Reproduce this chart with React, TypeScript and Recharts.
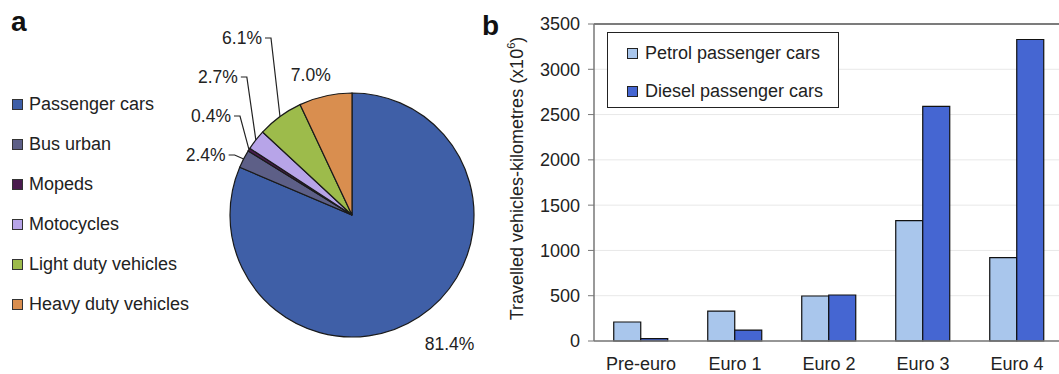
import React from "react";
import { PieChart, Pie, Cell, BarChart, Bar, XAxis, YAxis, CartesianGrid, Legend, ReferenceLine, Label } from "recharts";

// panel a: share of travelled vehicle-km by vehicle category
const pieNames = ["Passenger cars", "Bus urban", "Mopeds", "Motocycles", "Light duty vehicles", "Heavy duty vehicles"];
const pieShares = [81.4, 2.4, 0.4, 2.7, 6.1, 7.0];
const pieColors = ["#3F5FA7", "#5D5F87", "#4A1B4E", "#B7A4E8", "#9DBB4B", "#D98E4F"];

// panel b: travelled vehicle-km (x10^6) per emission class
const euroClasses = ["Pre-euro", "Euro 1", "Euro 2", "Euro 3", "Euro 4"];
const petrolKm = [210, 330, 497, 1328, 920];
const dieselKm = [26, 121, 508, 2590, 3329];
const yTicks = [0, 500, 1000, 1500, 2000, 2500, 3000, 3500];

const barSeries = [
  { key: "petrol", name: "Petrol passenger cars", color: "#A9C6EC" },
  { key: "diesel", name: "Diesel passenger cars", color: "#4566D2" },
];

const FONT = "'Liberation Sans', Arial, sans-serif";
const TEXT = "#222";
const RAD = Math.PI / 180;

// small slices get an Excel-like stacked leader label, the big ones sit outside radially
const leaderRow: (number | null)[] = [null, 0, 1, 2, 3, null];
const radialGap = [33, 0, 0, 0, 0, 21];
const radialDx = [12, 0, 0, 0, 0, -10];

const PieLabel = (props: any) => {
  const { cx, cy, midAngle, outerRadius, index, value } = props;
  const text = `${Number(value).toFixed(1)}%`;
  const cos = Math.cos(midAngle * RAD);
  const sin = Math.sin(midAngle * RAD);
  const row = leaderRow[index];
  if (row === null) {
    const r = outerRadius + radialGap[index];
    return (
      <text x={cx + r * cos + radialDx[index]} y={cy - r * sin} textAnchor="middle" dominantBaseline="central"
        fontSize={17.5} fill={TEXT} fontFamily={FONT}>
        {text}
      </text>
    );
  }
  const ax = cx + outerRadius * cos;
  const ay = cy - outerRadius * sin;
  const ty = cy - 60 - 39 * row;
  const elbow = ax - 9;
  return (
    <g>
      <polyline points={`${elbow - 6},${ty} ${elbow},${ty} ${ax},${ay}`} fill="none" stroke="#222" strokeWidth={1.2} />
      <text x={elbow - 9} y={ty} textAnchor="end" dominantBaseline="central" fontSize={17.5} fill={TEXT} fontFamily={FONT}>
        {text}
      </text>
    </g>
  );
};

const PieLegend = () => (
  <div style={{ fontFamily: FONT, fontSize: 18, color: TEXT }}>
    {pieNames.map((n, i) => (
      <div key={n} style={{ height: 40, display: "flex", alignItems: "center" }}>
        <span style={{ width: 9, height: 9, background: pieColors[i], border: "1px solid #333", marginRight: 6, display: "inline-block" }} />
        <span>{n}</span>
      </div>
    ))}
  </div>
);

const BarLegend = () => (
  <div style={{ fontFamily: FONT, fontSize: 18, color: TEXT, border: "1.5px solid #222", background: "#fff", width: 232, height: 76, boxSizing: "border-box", paddingLeft: 19, paddingTop: 1 }}>
    {barSeries.map((s) => (
      <div key={s.key} style={{ height: 38, display: "flex", alignItems: "center" }}>
        <span style={{ width: 9, height: 9, background: s.color, border: "1px solid #222", marginRight: 7, display: "inline-block" }} />
        <span>{s.name}</span>
      </div>
    ))}
  </div>
);

const YTitle = (props: any) => {
  const { viewBox } = props;
  const x = viewBox.x + 47;
  const y = viewBox.y + viewBox.height / 2 - 4;
  return (
    <text x={x} y={y} transform={`rotate(-90, ${x}, ${y})`} textAnchor="middle" dominantBaseline="central"
      fontSize={18} fill={TEXT} fontFamily={FONT}>
      Travelled vehicles-kilometres (x10<tspan dy={-6} fontSize={11}>6</tspan><tspan dy={6}>)</tspan>
    </text>
  );
};

const App: React.FC = () => {
  const pieData = pieNames.map((name, i) => ({ name, value: pieShares[i] }));
  const barData = euroClasses.map((c, i) => ({ cls: c, petrol: petrolKm[i], diesel: dieselKm[i] }));

  return (
    <div style={{ position: "absolute", left: 0, top: 0, width: 1059, height: 374, overflow: "hidden", background: "#fff", fontFamily: FONT }}>
      <div style={{ position: "absolute", left: 11, top: 6, fontSize: 28, fontWeight: "bold", color: "#111" }}>a</div>
      <div style={{ position: "absolute", left: 482, top: 10, fontSize: 28, fontWeight: "bold", color: "#111" }}>b</div>

      <div style={{ position: "absolute", left: 0, top: 0 }}>
        <PieChart width={480} height={374}>
          <Pie data={pieData} dataKey="value" nameKey="name" cx={347} cy={210} outerRadius={122}
            startAngle={90} endAngle={-270} stroke="#1a1a1a" strokeWidth={1.2}
            label={PieLabel} labelLine={false} isAnimationActive={false}>
            {pieData.map((d, i) => (
              <Cell key={d.name} fill={pieColors[i]} />
            ))}
          </Pie>
          <Legend layout="vertical" align="center" verticalAlign="middle" content={<PieLegend />}
            wrapperStyle={{ left: 12, top: 84, width: 210 }} />
        </PieChart>
      </div>

      <div style={{ position: "absolute", left: 470, top: 0 }}>
        <BarChart width={600} height={374} data={barData} margin={{ top: 24, right: 6, bottom: 0, left: 0 }}
          barCategoryGap="21%" barGap={0}>
          <CartesianGrid vertical={false} stroke="#e8e8e8" />
          <XAxis dataKey="cls" height={33} tickLine={false} axisLine={{ stroke: "#777", strokeWidth: 1.5 }}
            tickMargin={10} tick={{ fontSize: 18, fill: TEXT, fontFamily: FONT }} interval={0} />
          <YAxis width={124} domain={[0, 3500]} ticks={yTicks} interval={0}
            axisLine={{ stroke: "#777", strokeWidth: 1.5 }} tickLine={{ stroke: "#777" }} tickSize={6} tickMargin={8}
            tick={{ fontSize: 18, fill: TEXT, fontFamily: FONT }}>
            <Label content={<YTitle />} />
          </YAxis>
          <ReferenceLine y={3500} stroke="#555" strokeWidth={1.5} />
          {barSeries.map((s) => (
            <Bar key={s.key} dataKey={s.key} name={s.name} fill={s.color} stroke="#111" strokeWidth={1.2} isAnimationActive={false} />
          ))}
          <Legend layout="vertical" align="center" verticalAlign="middle" content={<BarLegend />}
            wrapperStyle={{ left: 137, top: 32, width: 232 }} />
        </BarChart>
      </div>
    </div>
  );
};

export default App;
